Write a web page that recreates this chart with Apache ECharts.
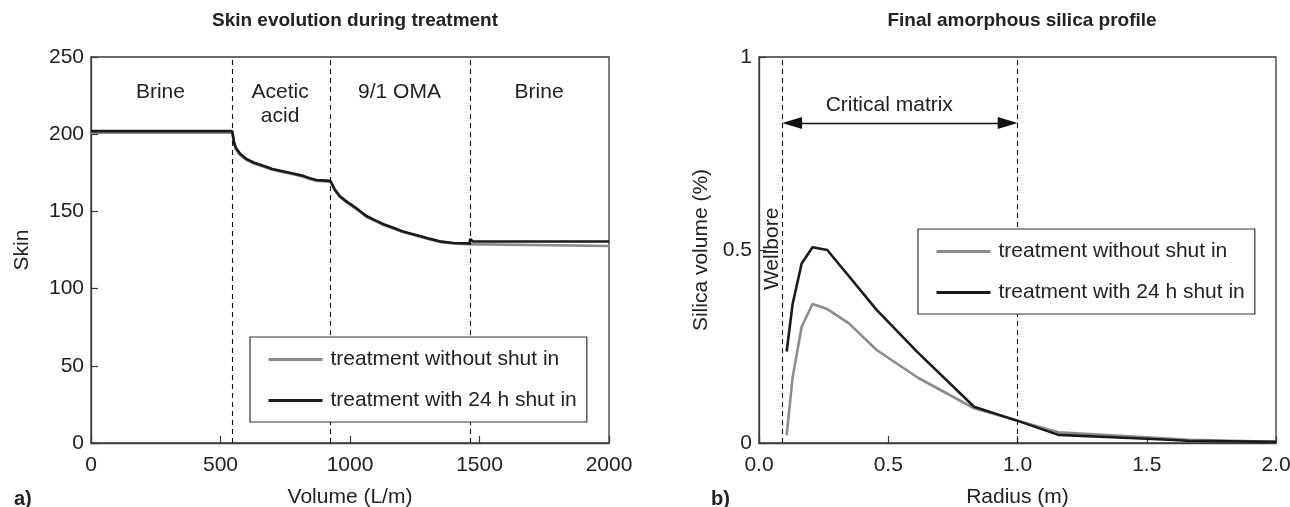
<!DOCTYPE html>
<html>
<head>
<meta charset="utf-8">
<script src="https://cdn.jsdelivr.net/npm/echarts@6/dist/echarts.min.js"></script>
<style>
html,body{margin:0;padding:0;background:#fff;}
#chart{width:1290px;height:507px;}
</style>
</head>
<body>
<div id="chart"></div>
<script>
// ---- Data: panel a) Skin evolution ----
const seriesNames = ['treatment without shut in', 'treatment with 24 h shut in'];
const volNoShut = [0, 545, 548, 552, 560, 575, 600, 630, 665, 700, 740, 780, 820, 845, 870, 924, 930, 940, 960, 990, 1021, 1063, 1100, 1132, 1170, 1201, 1240, 1270, 1310, 1353, 1400, 1440, 1445, 2000];
const skinNoShut = [201, 201, 198.5, 194, 190, 186.5, 183.3, 181, 179, 177, 175.5, 174, 172.5, 171, 169.8, 169.3, 167.5, 164, 159.5, 155.5, 152, 146.5, 143.5, 141, 138.8, 136.8, 135, 133.6, 131.8, 130, 129.2, 128.8, 127.6, 127.6];
const volShut = [0, 545, 548, 552, 560, 575, 600, 630, 665, 700, 740, 780, 820, 845, 870, 924, 930, 940, 960, 990, 1021, 1063, 1100, 1132, 1170, 1201, 1240, 1270, 1310, 1353, 1400, 1462, 1464, 1468, 1475, 2000];
const skinShut = [202, 202, 199.5, 195, 191, 187.5, 184, 181.5, 179.5, 177.5, 176, 174.5, 173, 171.5, 170.3, 169.8, 168, 164.5, 160, 156, 152.5, 147, 144, 141.5, 139.2, 137.2, 135.4, 134, 132.2, 130.4, 129.5, 129.3, 132.2, 131.2, 130.5, 130.5];
const phaseBounds = [545, 925, 1465];
const phaseLabels = ['Brine', 'Acetic\nacid', '9/1 OMA', 'Brine'];
const phaseLabelX = [268, 730, 1191, 1730];
const phaseLabelY = [227.5, 219.6, 227.5, 227.5];
const volTicks = {min: 0, max: 2000, interval: 500};
const skinTicks = {min: 0, max: 250, interval: 50};

// ---- Data: panel b) Final amorphous silica profile ----
const radius = [0.107, 0.13, 0.165, 0.207, 0.264, 0.348, 0.455, 0.615, 0.832, 0.998, 1.158, 1.5, 1.66, 2.0];
const silicaNoShut = [0.02, 0.17, 0.301, 0.36, 0.347, 0.31, 0.241, 0.169, 0.09, 0.058, 0.028, 0.015, 0.008, 0.003];
const silicaShut = [0.237, 0.36, 0.465, 0.507, 0.5, 0.432, 0.345, 0.234, 0.094, 0.058, 0.021, 0.011, 0.006, 0.003];
const matrixBounds = [0.09, 1.0];
const arrowLevel = 0.829;
const matrixLabel = {text: 'Critical matrix', x: 0.504, y: 0.876};
const wellboreLabel = {text: 'Wellbore', x: 0.052, y: 0.503};
const radiusTicks = {min: 0, max: 2, interval: 0.5};
const silicaTicks = {min: 0, max: 1, interval: 0.5};

// ---- Styles ----
const FONT = '"Liberation Sans", Arial, Helvetica, sans-serif';
const FS = 21;
const TXT = '#222';
const GRAY = '#8c8c8c';
const BLACK = '#1a1a1a';
const AXC = '#3a3a3a';
const ARROW_HALF = 0.038; // half arrow-head length in radius units so tips touch the dashed lines

const zip = (xs, ys) => xs.map((x, i) => [x, ys[i]]);

function axisCommon(extra) {
  return Object.assign({
    axisLine: {show: true, onZero: false, lineStyle: {color: AXC, width: 1.3}},
    axisTick: {show: true, inside: true, length: 7, lineStyle: {color: AXC, width: 1.2}},
    splitLine: {show: false},
    nameTextStyle: {color: TXT, fontSize: FS, fontFamily: FONT},
    nameLocation: 'middle'
  }, extra);
}

const dashStyle = {color: '#111', width: 1.1, type: [5, 4]};
const legendCommon = {
  orient: 'vertical', z: 20,
  backgroundColor: '#fff', borderColor: '#333', borderWidth: 1.2, borderRadius: 0,
  padding: [12, 10, 11, 17], itemGap: 20, itemWidth: 54, itemHeight: 2,
  itemStyle: {opacity: 0},
  lineStyle: {width: 3},
  textStyle: {fontSize: FS, color: TXT, fontFamily: FONT, padding: [0, 0, 0, 3]}
};
const gridCommon = {
  top: 57, bottom: 64, show: true, borderColor: AXC, borderWidth: 1.3,
  backgroundColor: 'transparent', containLabel: false, outerBoundsMode: 'none'
};

const chart = echarts.init(document.getElementById('chart'), null, {renderer: 'canvas'});
chart.setOption({
  backgroundColor: '#fff',
  animation: false,
  textStyle: {fontFamily: FONT},
  title: [
    {text: 'Skin evolution during treatment', left: 350, top: 6, textAlign: 'center',
     textStyle: {fontSize: 19, fontWeight: 'bold', color: TXT, fontFamily: FONT}},
    {text: 'Final amorphous silica profile', left: 1017, top: 6, textAlign: 'center',
     textStyle: {fontSize: 19, fontWeight: 'bold', color: TXT, fontFamily: FONT}},
    {text: 'a)', left: 9, top: 484, textStyle: {fontSize: 20, fontWeight: 'bold', color: TXT, fontFamily: FONT}},
    {text: 'b)', left: 706, top: 484, textStyle: {fontSize: 20, fontWeight: 'bold', color: TXT, fontFamily: FONT}}
  ],
  grid: [
    Object.assign({left: 91, right: 681}, gridCommon),
    Object.assign({left: 759, right: 14}, gridCommon)
  ],
  xAxis: [
    axisCommon({gridIndex: 0, type: 'value', min: volTicks.min, max: volTicks.max, interval: volTicks.interval,
      name: 'Volume (L/m)', nameGap: 44,
      axisLabel: {color: TXT, fontSize: FS, fontFamily: FONT, margin: 12, formatter: v => String(v)}}),
    axisCommon({gridIndex: 1, type: 'value', min: radiusTicks.min, max: radiusTicks.max, interval: radiusTicks.interval,
      name: 'Radius (m)', nameGap: 44,
      axisLabel: {color: TXT, fontSize: FS, fontFamily: FONT, margin: 12, formatter: v => v.toFixed(1)}})
  ],
  yAxis: [
    axisCommon({gridIndex: 0, type: 'value', min: skinTicks.min, max: skinTicks.max, interval: skinTicks.interval,
      name: 'Skin', nameGap: 58,
      axisLabel: {color: TXT, fontSize: FS, fontFamily: FONT, margin: 7, formatter: v => String(v)}}),
    axisCommon({gridIndex: 1, type: 'value', min: silicaTicks.min, max: silicaTicks.max, interval: silicaTicks.interval,
      name: 'Silica volume (%)', nameGap: 47,
      axisLabel: {color: TXT, fontSize: FS, fontFamily: FONT, margin: 7, formatter: v => String(v)}})
  ],
  legend: [
    Object.assign({data: seriesNames, left: 250, top: 337}, legendCommon),
    Object.assign({data: seriesNames, left: 918, top: 229}, legendCommon)
  ],
  series: [
    {
      name: seriesNames[0], type: 'line', xAxisIndex: 0, yAxisIndex: 0,
      data: zip(volNoShut, skinNoShut), symbol: 'none', z: 2,
      lineStyle: {color: GRAY, width: 2.6}, itemStyle: {color: GRAY},
      markLine: {
        silent: true, symbol: ['none', 'none'], label: {show: false},
        lineStyle: dashStyle,
        data: phaseBounds.map(v => ({xAxis: v}))
      },
      markPoint: {
        silent: true, symbol: 'circle', symbolSize: 1, itemStyle: {color: 'rgba(0,0,0,0)'},
        label: {show: true, position: 'inside', fontSize: FS, color: TXT, fontFamily: FONT, lineHeight: 24,
                formatter: p => p.name},
        data: phaseLabels.map((t, i) => ({name: t, coord: [phaseLabelX[i], phaseLabelY[i]]}))
      }
    },
    {
      name: seriesNames[1], type: 'line', xAxisIndex: 0, yAxisIndex: 0,
      data: zip(volShut, skinShut), symbol: 'none', z: 3,
      lineStyle: {color: BLACK, width: 2.6}, itemStyle: {color: BLACK}
    },
    {
      name: seriesNames[0], type: 'line', xAxisIndex: 1, yAxisIndex: 1,
      data: zip(radius, silicaNoShut), symbol: 'none', z: 2,
      lineStyle: {color: GRAY, width: 2.6}, itemStyle: {color: GRAY},
      markLine: {
        silent: true, symbol: ['none', 'none'], label: {show: false},
        lineStyle: dashStyle,
        data: matrixBounds.map(v => ({xAxis: v}))
      },
      markPoint: {
        silent: true, symbol: 'circle', symbolSize: 1, itemStyle: {color: 'rgba(0,0,0,0)'},
        data: [
          {name: matrixLabel.text, coord: [matrixLabel.x, matrixLabel.y],
           label: {show: true, position: 'inside', fontSize: FS, color: TXT, fontFamily: FONT, formatter: p => p.name}},
          {name: wellboreLabel.text, coord: [wellboreLabel.x, wellboreLabel.y],
           label: {show: true, position: 'inside', rotate: 90, fontSize: FS, color: TXT, fontFamily: FONT, formatter: p => p.name}}
        ]
      }
    },
    {
      name: seriesNames[1], type: 'line', xAxisIndex: 1, yAxisIndex: 1,
      data: zip(radius, silicaShut), symbol: 'none', z: 3,
      lineStyle: {color: BLACK, width: 2.6}, itemStyle: {color: BLACK},
      markLine: {
        silent: true, label: {show: false},
        symbol: ['triangle', 'triangle'], symbolSize: [12, 20],
        lineStyle: {color: '#111', width: 1.3, type: 'solid'},
        itemStyle: {color: '#111'},
        data: [[
          {coord: [matrixBounds[0] + ARROW_HALF, arrowLevel]},
          {coord: [matrixBounds[1] - ARROW_HALF, arrowLevel]}
        ]]
      }
    }
  ]
});
</script>
</body>
</html>
